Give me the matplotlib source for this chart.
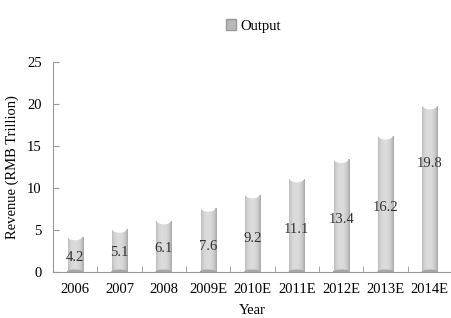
import numpy as np
import matplotlib.pyplot as plt
from matplotlib.patches import Ellipse, Patch

plt.rcParams['font.family'] = ['Liberation Serif', 'DejaVu Serif']

years = ['2006', '2007', '2008', '2009E', '2010E', '2011E', '2012E', '2013E', '2014E']
output = [4.2, 5.1, 6.1, 7.6, 9.2, 11.1, 13.4, 16.2, 19.8]
# heights where the value labels sit
label_y = [1.7, 2.3, 2.8, 3.0, 4.0, 5.1, 6.3, 7.7, 12.9]

fig = plt.figure(figsize=(4.52, 3.18), dpi=100)
ax = fig.add_axes([0.117, 0.145, 0.883, 0.66])

x = np.arange(len(years))
w = 0.34
bars = ax.bar(x, output, width=w, color='#d0d0d0', zorder=2)

# cylinder shading: soft horizontal gradient clipped to each bar
g = np.linspace(-1, 1, 64)
shade = 0.86 - 0.16 * np.abs(g + 0.1) ** 2.5
img = np.tile(shade, (2, 1))
for b in bars:
    x0, h = b.get_x(), b.get_height()
    im = ax.imshow(img, cmap='gray', vmin=0, vmax=1, aspect='auto',
                   extent=[x0, x0 + w, 0, h], zorder=3, interpolation='bilinear')
    im.set_clip_path(b)
    ax.add_patch(Ellipse((x0 + w / 2, h), w * 0.85, 0.7, color='white', zorder=4))
    ax.add_patch(Ellipse((x0 + w / 2, 0.0), w, 0.4, color='#a6a6a6', zorder=4))

for xi, v, ly in zip(x, output, label_y):
    ax.text(xi, ly, f'{v}', ha='center', va='center', fontsize=10.5, color='#333333', zorder=5)

ax.set_xlim(-0.5, len(years) - 0.5)
ax.set_ylim(0, 25)
ax.set_yticks([0, 5, 10, 15, 20, 25])
ax.set_xticks(x)
ax.set_xticklabels(years)
ax.set_xticks(np.arange(len(years)) + 0.5, minor=True)
ax.tick_params(axis='x', which='major', length=0, labelsize=10.5, pad=8)
ax.tick_params(axis='x', which='minor', direction='in', length=4, color='#999999')
ax.tick_params(axis='y', direction='in', length=4, color='#999999', labelsize=10.5, pad=8)

for s in ['top', 'right']:
    ax.spines[s].set_visible(False)
for s in ['left', 'bottom']:
    ax.spines[s].set_color('#999999')
    ax.spines[s].set_linewidth(0.8)

ax.set_ylabel('Revenue (RMB Trillion)', fontsize=10.5, labelpad=6)
ax.set_xlabel('Year', fontsize=10.5, labelpad=6)

fig.legend(handles=[Patch(facecolor='#b8b8b8', edgecolor='#999999', label='Output')],
           loc='upper center', bbox_to_anchor=(0.56, 0.98), frameon=False,
           fontsize=10.5, handlelength=0.7, handleheight=0.7, handletextpad=0.3)

fig.savefig('out.png', dpi=100)
